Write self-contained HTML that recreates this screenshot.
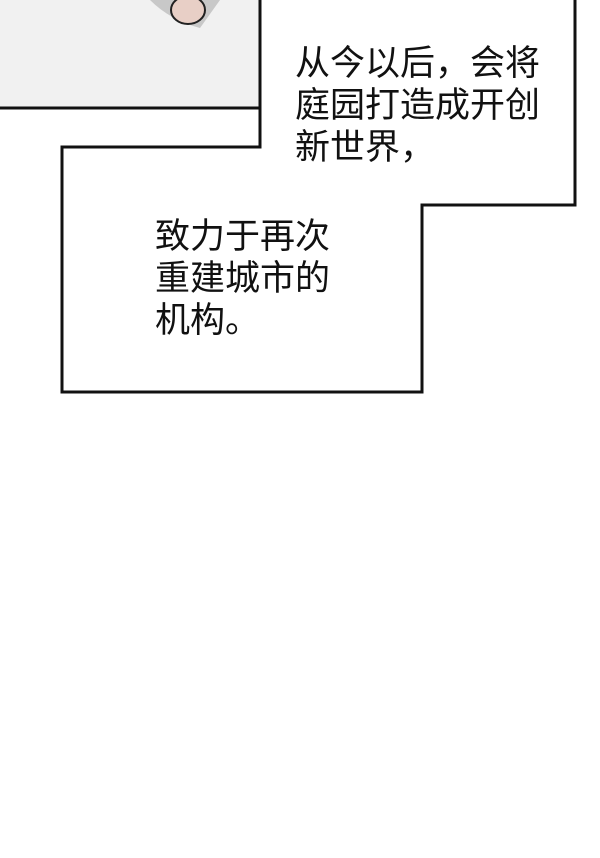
<!DOCTYPE html>
<html><head><meta charset="utf-8"><style>
html,body{margin:0;padding:0;width:600px;height:858px;background:#fff;overflow:hidden;position:relative}
.t{position:absolute;font-family:"Liberation Sans","Noto Sans CJK SC",sans-serif;font-size:35px;line-height:42px;color:#111;white-space:nowrap}
</style></head><body>
<div style="position:absolute;left:0;top:0;width:260px;height:108px;background:#f1f1f1"></div>
<svg width="600" height="858" style="position:absolute;left:0;top:0">
<path d="M150,0 Q170,20 200,28 L220,0 Z" fill="#c8c8c8"/>
<ellipse cx="188" cy="10" rx="17" ry="14" fill="#e8cfc6" stroke="#222" stroke-width="2"/>
<polygon points="260,-2 260,147 62,147 62,392 422,392 422,205 575,205 575,-2" fill="#fff" stroke="#111" stroke-width="3"/>
<line x1="0" y1="108" x2="260" y2="108" stroke="#111" stroke-width="3"/>
</svg>
<div class="t" style="left:295px;top:43px">从今以后，会将<br>庭园打造成开创<br>新世界，</div>
<div class="t" style="left:155px;top:216px">致力于再次<br>重建城市的<br>机构。</div>
</body></html>
